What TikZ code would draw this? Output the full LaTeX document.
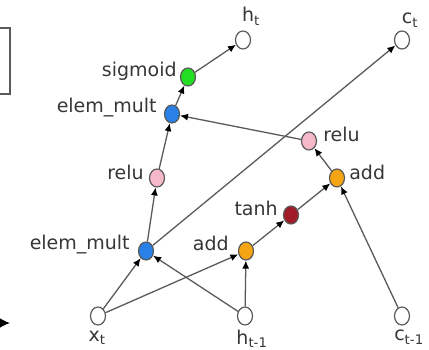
\documentclass[tikz,border=0pt]{standalone}
\usepackage{fontspec}
\setmainfont{DejaVu Sans}
\usepackage{tikz}
\usetikzlibrary{arrows.meta, shapes.geometric}
\definecolor{edgeColor}{HTML}{5A5A5A}
\definecolor{textColor}{HTML}{363636}
\definecolor{sigColor}{HTML}{22DD22}
\definecolor{multColor}{HTML}{2A80E6}
\definecolor{reluColor}{HTML}{F5B8C8}
\definecolor{addColor}{HTML}{F5A514}
\definecolor{tanhColor}{HTML}{A01C28}

\tikzset{
    op/.style={ellipse, draw=edgeColor, line width=1.2pt, minimum width=15pt, minimum height=18pt, inner sep=0pt},
    io/.style={op, fill=white},
    lbl/.style={text=textColor, font=\fontsize{19}{21}\selectfont, inner sep=0pt},
    flow/.style={draw=edgeColor, line width=1.3pt, -{Latex[length=8pt,width=7pt,color=black]}},
}

\begin{document}
\begin{tikzpicture}[x=1pt, y=-1pt]
    \clip (0,0) rectangle (429,350);

    % cell outputs
    \node[io, label={[lbl, label distance=5pt, xshift=8pt]above:h\textsubscript{t}}] (ht) at (243,40) {};
    \node[io, label={[lbl, label distance=3pt, xshift=8pt]above:c\textsubscript{t}}] (ct) at (402,40) {};

    % gates
    \node[op, fill=sigColor, label={[lbl, label distance=3pt, yshift=6pt]left:sigmoid}] (sig) at (188,77) {};
    \node[op, fill=multColor, label={[lbl, label distance=7pt, yshift=6pt]left:elem\_mult}] (multT) at (172,114) {};
    \node[op, fill=reluColor, label={[lbl, label distance=5pt, yshift=6pt]left:relu}] (reluL) at (157,178) {};
    \node[op, fill=multColor, label={[lbl, label distance=8pt, yshift=6pt]left:elem\_mult}] (multB) at (146,251) {};
    \node[op, fill=addColor, label={[lbl, label distance=9pt, yshift=8pt]left:add}] (addB) at (246,251) {};
    \node[op, fill=tanhColor, label={[lbl, label distance=5pt, yshift=7pt]left:tanh}] (tanh) at (291,215) {};
    \node[op, fill=addColor, label={[lbl, label distance=4pt, yshift=6pt]right:add}] (addR) at (337,178) {};
    \node[op, fill=reluColor, label={[lbl, label distance=6pt, yshift=7pt]right:relu}] (reluR) at (309,141) {};

    % cell inputs
    \node[io, label={[lbl, label distance=5pt, xshift=-1pt]below:x\textsubscript{t}}] (xt) at (98,316) {};
    \node[io, label={[lbl, label distance=4pt, xshift=7pt]below:h\textsubscript{t-1}}] (hprev) at (245,316) {};
    \node[io, label={[lbl, label distance=4pt, xshift=7pt]below:c\textsubscript{t-1}}] (cprev) at (402,316) {};

    % edges of the graph
    \draw[flow] (xt) -- (multB);
    \draw[flow] (xt) -- (addB);
    \draw[flow] (hprev) -- (multB);
    \draw[flow] (hprev) -- (addB);
    \draw[flow] (multB) -- (reluL);
    \draw[flow] (multB) -- (ct);
    \draw[flow] (addB) -- (tanh);
    \draw[flow] (tanh) -- (addR);
    \draw[flow] (cprev) -- (addR);
    \draw[flow] (addR) -- (reluR);
    \draw[flow] (reluR) -- (multT);
    \draw[flow] (reluL) -- (multT);
    \draw[flow] (multT) -- (sig);
    \draw[flow] (sig) -- (ht);

    % cut-off box and arrow at the left border
    \draw[edgeColor, line width=1.8pt] (-20,28) rectangle (10,94);
    \coordinate (arrowTail) at (-30,323);
    \coordinate (arrowTip) at (10,323);
    \draw[line width=1.5pt, -{Latex[length=11pt,width=11pt]}] (arrowTail) -- (arrowTip);
\end{tikzpicture}
\end{document}
